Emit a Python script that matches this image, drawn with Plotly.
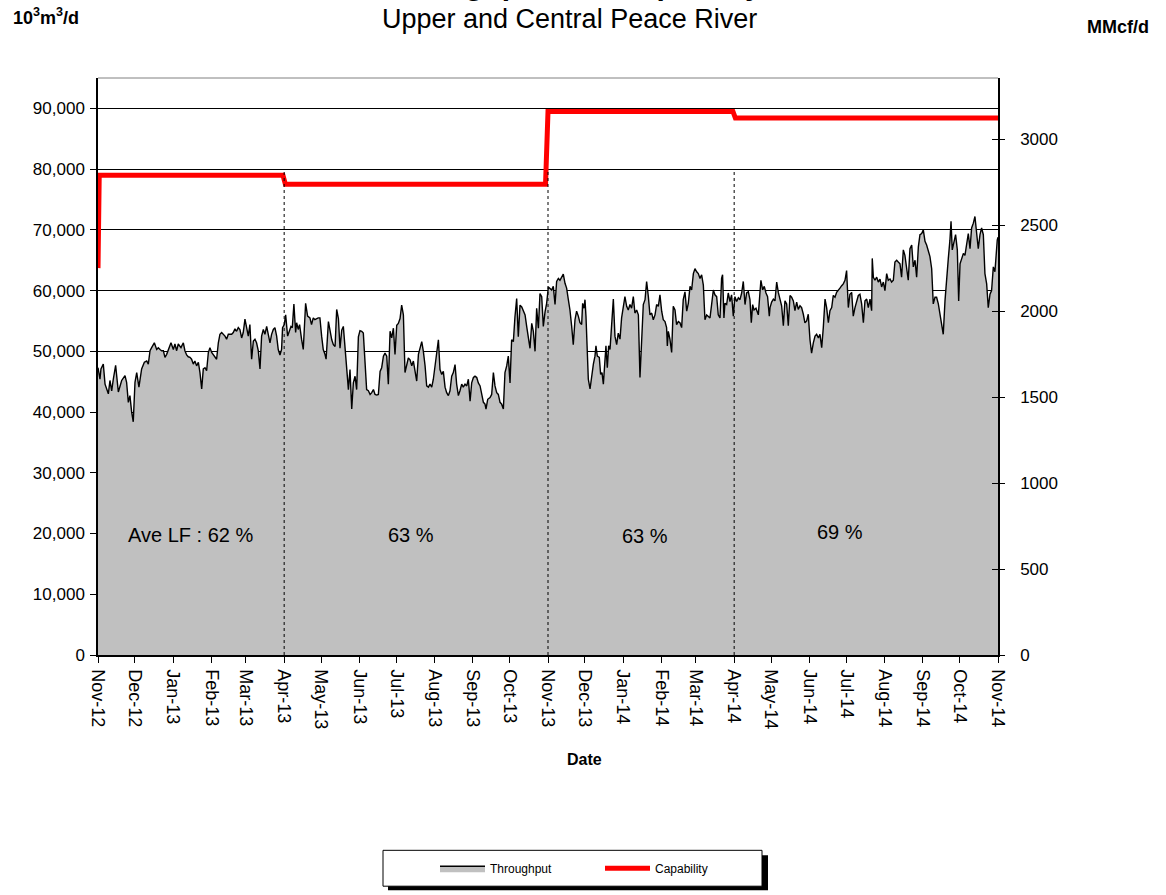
import pandas as pd
import plotly.graph_objects as go

# ---------------- data ----------------
start_date = "2012-11-01"
end_date = "2014-11-01"

# Throughput (10^3 m3/d, in thousands); day offsets from start_date
throughput_day = [
    0.0, 1.6, 2.4, 4.3, 5.7, 8.4, 9.7, 11.1, 12.4, 14.3, 16.5, 17.8, 19.2, 21.9, 23.2, 24.6, 25.9, 27.3, 28.6, 30.0,
    31.4, 33.2, 35.4, 37.6, 39.5, 40.8, 42.2, 43.5, 45.7, 47.6, 48.9, 50.3, 51.6, 53.0, 54.3, 55.7, 57.0, 59.2, 61.1, 62.4,
    63.8, 65.1, 67.3, 69.2, 70.5, 71.9, 73.2, 74.6, 75.9, 77.3, 78.6, 80.0, 81.4, 82.7, 84.1, 85.4, 86.8, 88.1, 89.5, 90.8,
    92.2, 93.5, 94.9, 96.2, 97.6, 98.9, 100.3, 101.6, 103.0, 104.3, 105.7, 108.4, 109.7, 111.1, 112.4, 113.8, 115.1, 116.5, 117.8, 119.2,
    120.5, 121.9, 123.2, 124.6, 126.0, 127.3, 128.6, 130.0, 131.4, 132.7, 134.1, 135.4, 136.8, 138.1, 139.5, 140.8, 142.2, 143.5, 144.9, 146.2,
    147.6, 148.9, 149.7, 151.1, 152.2, 153.8, 155.1, 156.5, 157.6, 158.9, 160.3, 161.1, 162.4, 163.5, 165.1, 166.5, 168.4, 170.0, 171.9, 173.2,
    174.6, 175.9, 178.6, 180.0, 181.4, 182.7, 184.1, 185.0, 186.9, 188.2, 189.6, 190.9, 192.3, 193.6, 195.0, 196.3, 197.7, 199.0, 200.4, 201.7,
    203.1, 204.4, 205.8, 207.1, 208.5, 209.8, 211.2, 212.5, 213.9, 215.2, 216.6, 217.9, 219.3, 220.7, 222.0, 223.4, 224.7, 226.1, 227.4, 228.8,
    230.1, 231.5, 232.8, 234.2, 235.5, 236.9, 238.2, 239.6, 240.9, 242.3, 243.6, 245.0, 246.3, 247.7, 249.0, 250.4, 251.7, 253.1, 254.5, 255.8,
    257.1, 258.5, 259.9, 261.2, 262.6, 263.9, 265.3, 266.6, 268.0, 269.3, 270.7, 272.0, 273.4, 274.7, 276.1, 277.4, 278.8, 280.1, 281.5, 282.8,
    284.2, 285.5, 286.9, 288.2, 289.6, 290.9, 292.3, 293.6, 295.0, 296.3, 297.7, 299.1, 300.4, 301.8, 303.1, 304.5, 305.8, 307.2, 308.5, 309.9,
    311.2, 312.6, 313.9, 314.7, 316.1, 318.0, 319.3, 320.7, 322.0, 323.4, 324.7, 326.1, 327.4, 328.8, 330.1, 331.5, 332.8, 334.2, 335.5, 336.9,
    338.2, 339.6, 340.9, 342.3, 343.7, 345.0, 346.4, 347.7, 349.1, 350.4, 351.8, 353.1, 354.5, 355.8, 357.2, 358.5, 359.9, 361.2, 362.6, 363.9,
    365.3, 366.6, 368.0, 369.3, 370.7, 372.0, 373.4, 374.7, 376.1, 377.4, 378.8, 380.1, 381.5, 382.8, 384.2, 385.5, 386.9, 388.2, 389.6, 390.9,
    392.3, 393.1, 394.2, 395.0, 395.8, 396.9, 397.7, 399.1, 400.4, 401.8, 403.1, 403.9, 405.0, 406.6, 407.7, 408.8, 409.9, 411.2, 412.0, 413.1,
    414.2, 415.3, 416.6, 418.0, 419.3, 420.7, 422.0, 423.4, 424.7, 426.1, 427.4, 428.8, 430.1, 431.5, 432.8, 434.2, 435.5, 436.9, 438.3, 439.6,
    441.0, 442.3, 443.7, 445.0, 446.4, 447.7, 449.1, 450.4, 451.8, 453.1, 454.5, 455.8, 457.2, 458.5, 459.9, 461.2, 461.8, 462.6, 463.9, 465.3,
    466.6, 468.0, 469.3, 470.7, 472.0, 473.4, 474.7, 476.1, 477.5, 478.8, 480.2, 481.5, 482.9, 484.2, 485.6, 486.9, 488.3, 489.6, 491.0, 492.3,
    493.7, 495.0, 496.4, 497.7, 499.1, 500.4, 501.8, 503.1, 504.5, 505.8, 506.6, 507.7, 508.5, 509.9, 511.2, 512.6, 513.9, 515.3, 516.6, 518.0,
    519.4, 520.7, 522.1, 523.4, 524.8, 526.1, 527.5, 528.8, 529.9, 531.0, 532.1, 533.7, 535.6, 536.9, 537.7, 539.1, 540.4, 541.8, 543.1, 544.5,
    545.1, 546.4, 547.8, 549.1, 550.5, 551.8, 553.2, 554.5, 555.9, 557.2, 558.6, 559.9, 561.3, 562.6, 564.0, 565.3, 566.7, 568.0, 569.4, 570.7,
    572.1, 573.4, 574.8, 576.1, 577.5, 578.8, 580.2, 581.6, 582.9, 584.3, 585.6, 587.0, 588.3, 589.7, 591.0, 592.4, 593.7, 595.1, 596.4, 597.8,
    599.1, 600.5, 601.8, 603.2, 604.5, 605.9, 607.2, 608.6, 609.9, 611.3, 612.6, 614.0, 615.3, 616.7, 618.0, 619.4, 620.8, 622.1, 623.5, 624.8,
    626.2, 627.5, 628.0, 628.9, 630.2, 631.6, 632.9, 634.3, 635.6, 637.0, 638.3, 639.7, 641.0, 642.4, 643.7, 645.1, 646.4, 647.8, 649.1, 650.5,
    651.8, 653.2, 654.5, 655.9, 657.2, 658.6, 660.0, 661.3, 662.7, 664.0, 665.4, 666.7, 668.1, 669.4, 670.8, 672.1, 673.5, 674.8, 676.2, 677.5,
    678.9, 680.2, 681.6, 682.9, 684.3, 685.6, 687.0, 688.3, 689.7, 691.0, 691.9, 692.9, 694.3, 695.6, 697.0, 698.1, 699.2, 700.5, 701.9, 703.2,
    704.6, 705.9, 707.3, 708.6, 710.0, 711.3, 712.7, 714.0, 715.4, 716.7, 718.1, 719.4, 720.8, 722.1, 723.5, 724.8, 726.2, 727.5, 729.4, 730.0,
]
throughput_k = [
    47.3, 45.4, 47.1, 47.9, 44.6, 43.0, 45.2, 43.5, 45.4, 47.7, 43.3, 44.4, 45.2, 46.0, 44.9, 41.6, 42.7, 40.0, 38.4, 44.9,
    46.5, 44.1, 47.1, 48.2, 48.4, 47.9, 50.1, 50.6, 51.4, 50.3, 50.6, 50.3, 50.1, 50.1, 49.0, 49.5, 50.1, 51.4, 50.3, 51.2,
    50.1, 51.2, 50.6, 51.4, 50.1, 49.4, 49.1, 49.0, 48.7, 47.9, 48.4, 47.6, 48.2, 46.5, 43.8, 47.1, 47.3, 46.8, 49.8, 50.6,
    49.8, 49.5, 49.0, 48.7, 51.4, 52.8, 53.1, 52.8, 52.5, 52.0, 52.8, 52.8, 53.1, 53.7, 53.3, 53.9, 53.6, 52.2, 53.1, 55.3,
    53.6, 52.5, 54.4, 48.7, 51.7, 52.0, 51.4, 50.1, 47.1, 52.5, 53.6, 52.8, 54.1, 52.8, 51.4, 52.8, 53.6, 53.9, 52.5, 50.3,
    49.4, 50.3, 53.9, 54.4, 56.0, 52.5, 53.3, 54.1, 53.9, 57.8, 53.1, 54.7, 53.6, 54.4, 52.0, 50.3, 57.9, 55.8, 55.5, 54.4,
    55.5, 55.2, 55.5, 55.5, 52.5, 50.3, 49.5, 48.7, 54.9, 53.3, 51.9, 51.1, 50.8, 56.9, 55.4, 50.5, 53.5, 54.1, 50.5, 47.0,
    43.7, 47.0, 40.5, 44.8, 45.9, 43.7, 52.4, 53.4, 53.3, 53.0, 48.1, 43.7, 43.5, 42.9, 43.2, 43.7, 42.9, 42.8, 42.9, 46.7,
    47.3, 49.2, 49.7, 49.2, 44.6, 53.3, 52.2, 53.8, 49.5, 54.3, 54.6, 55.4, 57.6, 56.0, 46.5, 47.6, 48.9, 48.6, 47.6, 48.4,
    46.7, 45.1, 49.5, 50.8, 51.6, 50.0, 47.6, 44.3, 44.1, 44.6, 44.1, 45.4, 47.6, 50.3, 51.9, 47.0, 46.2, 46.7, 44.1, 43.2,
    42.7, 43.5, 45.9, 46.5, 47.8, 44.6, 42.7, 43.5, 44.6, 44.1, 44.6, 44.3, 45.4, 41.8, 44.8, 45.7, 45.9, 45.7, 44.8, 44.3,
    42.7, 41.6, 41.3, 40.5, 42.1, 42.4, 42.9, 46.5, 44.3, 43.2, 42.9, 41.6, 41.3, 40.5, 46.5, 47.6, 49.2, 44.8, 51.9, 51.6,
    55.7, 58.7, 52.4, 57.6, 57.3, 56.8, 56.0, 54.1, 52.4, 50.5, 54.6, 53.3, 50.0, 57.1, 53.8, 59.5, 59.0, 54.1, 56.5, 57.9,
    60.6, 60.4, 60.1, 60.7, 57.7, 61.5, 62.0, 61.7, 62.3, 62.7, 61.2, 60.4, 58.5, 56.8, 54.1, 51.1, 55.2, 56.6, 55.8, 54.7,
    54.4, 57.9, 57.1, 58.5, 55.8, 50.3, 45.4, 43.8, 46.2, 47.9, 49.2, 50.9, 49.2, 49.0, 46.2, 46.5, 44.6, 48.2, 50.9, 47.3,
    50.9, 50.3, 53.6, 58.6, 52.5, 51.1, 53.0, 52.0, 55.5, 57.1, 59.0, 57.4, 56.8, 57.7, 57.1, 59.0, 56.3, 56.8, 56.0, 45.7,
    53.6, 57.7, 58.5, 61.5, 59.0, 56.0, 56.3, 55.2, 56.0, 57.7, 57.4, 59.3, 56.6, 55.2, 54.9, 53.9, 50.9, 53.3, 52.0, 49.8,
    57.4, 56.8, 54.4, 54.9, 54.7, 53.9, 58.5, 59.8, 56.6, 57.9, 60.7, 60.1, 62.8, 63.6, 63.1, 62.8, 62.0, 62.6, 60.9, 55.2,
    56.0, 55.8, 55.5, 57.7, 60.1, 59.3, 59.0, 56.0, 55.5, 62.0, 62.6, 55.5, 57.9, 57.7, 59.6, 58.2, 59.3, 55.8, 59.0, 58.2,
    58.8, 58.5, 59.6, 61.5, 57.7, 59.6, 59.8, 58.5, 54.7, 57.7, 56.8, 57.1, 56.0, 59.6, 61.7, 60.1, 60.7, 59.6, 59.0, 55.8,
    57.2, 58.1, 58.6, 58.3, 61.4, 59.7, 58.3, 57.5, 54.2, 58.3, 57.8, 54.2, 59.2, 58.9, 58.3, 56.7, 58.1, 56.9, 57.5, 57.2,
    56.1, 54.7, 55.0, 56.1, 51.9, 49.7, 51.4, 52.5, 52.8, 52.2, 52.8, 50.6, 53.9, 58.6, 57.2, 54.7, 56.7, 57.2, 59.2, 58.9,
    59.7, 60.0, 60.4, 60.8, 61.1, 61.7, 63.3, 57.2, 59.4, 59.7, 55.8, 57.2, 58.3, 59.2, 59.4, 57.8, 54.7, 58.3, 58.6, 57.2,
    58.6, 56.7, 65.3, 62.2, 61.7, 62.2, 61.4, 61.9, 60.6, 61.4, 60.0, 62.8, 61.7, 61.9, 61.4, 61.7, 64.7, 65.0, 64.7, 64.4,
    62.2, 66.7, 65.8, 63.3, 61.7, 66.9, 67.5, 63.9, 65.0, 62.2, 67.2, 69.2, 69.4, 70.0, 68.1, 67.5, 66.4, 65.6, 63.6, 57.8,
    58.9, 58.9, 57.8, 56.1, 54.4, 52.8, 58.3, 61.1, 65.3, 68.3, 71.4, 66.7, 67.8, 69.2, 66.7, 58.3, 64.4, 65.3, 66.1, 65.8,
    68.1, 69.4, 66.9, 70.3, 71.1, 72.2, 69.4, 66.9, 69.2, 70.3, 69.2, 62.8, 61.1, 57.2, 59.4, 60.0, 63.9, 63.1, 68.3, 68.8,
]

# Capability (10^3 m3/d, in thousands)
capability_dates = ["2012-11-01", "2012-11-02", "2013-03-31", "2013-04-02", "2013-10-30",
                    "2013-11-01", "2014-03-31", "2014-04-02", "2014-11-01"]
capability_k = [63.7, 79.0, 79.0, 77.5, 77.5, 89.5, 89.5, 88.4, 88.4]

# Period breaks and average load factors
period_breaks = ["2013-04-01", "2013-11-01", "2014-04-01"]
lf_labels = ["Ave LF : 62 %", "63 %", "63 %", "69 %"]
lf_dates = ["2013-01-15", "2013-07-13", "2014-01-19", "2014-06-26"]
lf_levels = [19700, 19700, 19600, 20200]

MMCF_PER_E3M3 = 0.0353147
Y_MAX = 95000

# ---------------- figure ----------------
base = pd.Timestamp(start_date)
thr_x = [base + pd.to_timedelta(d, unit="D") for d in throughput_day]
thr_y = [v * 1000 for v in throughput_k]
cap_y = [v * 1000 for v in capability_k]

FONT = "Liberation Sans, Arial, sans-serif"


def px_x(p):  # page pixel -> paper x
    return (p - 98) / 900.0


def px_y(p):  # page pixel -> paper y
    return (657 - p) / 579.0


fig = go.Figure()
fig.add_trace(go.Scatter(
    x=thr_x, y=thr_y, name="Throughput", mode="lines",
    line=dict(color="black", width=1.4), fill="tozeroy", fillcolor="#C0C0C0",
))
fig.add_trace(go.Scatter(
    x=pd.to_datetime(capability_dates), y=cap_y, name="Capability", mode="lines",
    line=dict(color="#FF0000", width=5),
))
# invisible traces for the right-hand axes
fig.add_trace(go.Scatter(x=[start_date], y=[0], yaxis="y2", showlegend=False,
                         mode="markers", marker=dict(opacity=0), hoverinfo="skip"))
fig.add_trace(go.Scatter(x=[start_date], y=[0], yaxis="y3", showlegend=False,
                         mode="markers", marker=dict(opacity=0), hoverinfo="skip"))

shapes = []
for d in period_breaks:
    shapes.append(dict(type="line", xref="x", yref="y", x0=d, x1=d, y0=0, y1=80000,
                       line=dict(color="black", width=1, dash="dot"), layer="above"))
# top border of plot area (grey)
shapes.append(dict(type="line", xref="paper", yref="paper", x0=0, x1=1, y0=1, y1=1,
                   line=dict(color="#808080", width=1)))
# legend box with shadow
shapes.append(dict(type="rect", xref="paper", yref="paper",
                   x0=px_x(388), x1=px_x(768), y0=px_y(893), y1=px_y(858),
                   fillcolor="black", line=dict(width=0), layer="below"))
shapes.append(dict(type="rect", xref="paper", yref="paper",
                   x0=px_x(383), x1=px_x(762), y0=px_y(889), y1=px_y(853),
                   fillcolor="white", line=dict(color="black", width=1), layer="below"))
fig.update_layout(shapes=shapes)

annotations = []
for t, d, lv in zip(lf_labels, lf_dates, lf_levels):
    annotations.append(dict(x=d, y=lv, xref="x", yref="y", text=t, showarrow=False,
                            xanchor="center", yanchor="middle",
                            font=dict(size=20, color="black", family=FONT)))
annotations += [
    dict(x=px_x(571), y=px_y(-15.5), xref="paper", yref="paper", text="<b>Throughput and Capability</b>",
         showarrow=False, font=dict(size=30, color="black", family=FONT), xanchor="center", yanchor="middle"),
    dict(x=px_x(569), y=px_y(19), xref="paper", yref="paper", text="Upper and Central Peace River",
         showarrow=False, font=dict(size=27, color="black", family=FONT), xanchor="center", yanchor="middle"),
    dict(x=px_x(46), y=px_y(16), xref="paper", yref="paper", text="<b>10<sup>3</sup>m<sup>3</sup>/d</b>",
         showarrow=False, font=dict(size=18, color="black", family=FONT), xanchor="center", yanchor="middle"),
    dict(x=px_x(1118), y=px_y(27), xref="paper", yref="paper", text="<b>MMcf/d</b>",
         showarrow=False, font=dict(size=18, color="black", family=FONT), xanchor="center", yanchor="middle"),
    dict(x=px_x(584), y=px_y(762), xref="paper", yref="paper", text="<b>Date</b>",
         showarrow=False, font=dict(size=16, color="black", family=FONT), xanchor="center", yanchor="middle"),
]
fig.update_layout(annotations=annotations)

fig.update_layout(
    width=1166, height=895,
    margin=dict(l=98, r=168, t=78, b=238, pad=0),
    paper_bgcolor="white", plot_bgcolor="white",
    font=dict(family=FONT, color="black", size=17),
    xaxis=dict(
        type="date", range=[start_date, end_date], dtick="M1", tick0=start_date,
        tickformat="%b-%y", tickangle=90, ticks="outside", ticklen=6, tickcolor="black",
        showline=True, linecolor="black", linewidth=1.5, showgrid=False, zeroline=False,
        tickfont=dict(size=18), ticklabelstandoff=3,
    ),
    yaxis=dict(
        range=[0, Y_MAX], tickvals=list(range(0, 90001, 10000)), tickformat=",d",
        ticks="outside", ticklen=6, tickcolor="black",
        showline=True, linecolor="black", linewidth=1.5,
        showgrid=True, gridcolor="black", gridwidth=1, zeroline=False,
        tickfont=dict(size=17), ticklabelstandoff=2,
    ),
    yaxis2=dict(
        overlaying="y", side="right", range=[0, Y_MAX * MMCF_PER_E3M3],
        tickvals=list(range(0, 3001, 500)), tickformat="d",
        ticks="outside", ticklen=5, tickcolor="black",
        showline=True, linecolor="black", linewidth=1.5, showgrid=False, zeroline=False,
        tickfont=dict(size=17), ticklabelstandoff=12,
    ),
    yaxis3=dict(
        overlaying="y", side="right", range=[0, Y_MAX * MMCF_PER_E3M3],
        tickvals=list(range(0, 3001, 500)), showticklabels=False,
        ticks="inside", ticklen=6, tickcolor="black",
        showline=False, showgrid=False, zeroline=False,
    ),
    legend=dict(
        orientation="h", x=px_x(435), xanchor="left", y=px_y(871), yanchor="middle",
        bgcolor="rgba(0,0,0,0)", borderwidth=0,
        font=dict(size=12, family=FONT), entrywidth=105, entrywidthmode="pixels",
        itemwidth=45,
    ),
    showlegend=True,
)

fig.write_html("out.html", config={"displayModeBar": False},
               post_script="document.body.style.margin='0';")
